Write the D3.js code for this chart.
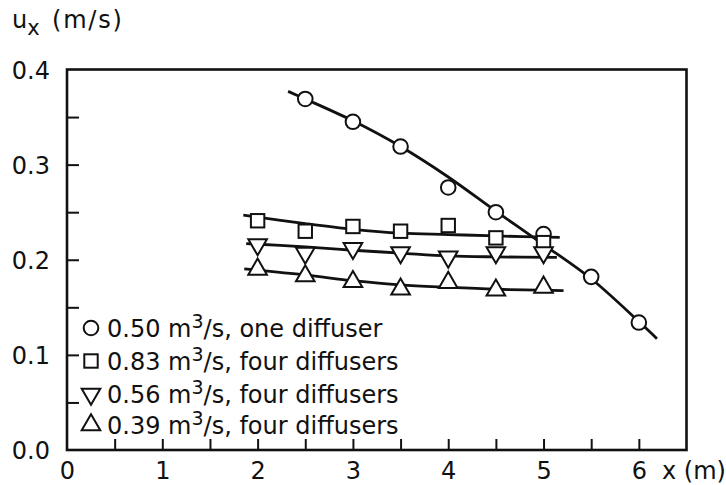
<!DOCTYPE html>
<html>
<head>
<meta charset="utf-8">
<script src="https://cdn.jsdelivr.net/npm/d3@7"></script>
<style>
  html, body { margin: 0; padding: 0; background: #fff; }
  svg { display: block; }
  text { font-family: "DejaVu Sans", sans-serif; fill: #111; }
</style>
</head>
<body>
<svg id="chart" width="726" height="485"></svg>
<script>
// ---- Data ----
const xTickLabels = [0, 1, 2, 3, 4, 5, 6];
const yTickLabels = [0.0, 0.1, 0.2, 0.3, 0.4];
const xMinorTicks = [0.5, 1, 1.5, 2, 2.5, 3, 3.5, 4, 4.5, 5, 5.5, 6];
const yMinorTicks = [0.05, 0.1, 0.15, 0.2, 0.25, 0.3, 0.35];

// 0.50 m3/s, one diffuser (circles)
const circleX = [2.5, 3, 3.5, 4, 4.5, 5, 5.5, 6];
const circleY = [0.369, 0.345, 0.319, 0.276, 0.250, 0.227, 0.182, 0.134];
const circleFitX = [2.32, 2.5, 3, 3.5, 4, 4.5, 5, 5.5, 6, 6.19];
const circleFitY = [0.377, 0.369, 0.346, 0.319, 0.287, 0.251, 0.216, 0.180, 0.135, 0.117];

// 0.83 m3/s, four diffusers (squares)
const squareX = [2, 2.5, 3, 3.5, 4, 4.5, 5];
const squareY = [0.241, 0.230, 0.235, 0.230, 0.236, 0.223, 0.218];
const squareFitX = [1.85, 2.5, 3, 3.5, 4, 4.5, 5.17];
const squareFitY = [0.247, 0.238, 0.232, 0.228, 0.2265, 0.225, 0.2235];

// 0.56 m3/s, four diffusers (down triangles)
const triDownX = [2, 2.5, 3, 3.5, 4, 4.5, 5];
const triDownY = [0.216, 0.207, 0.212, 0.2075, 0.203, 0.2075, 0.2075];
const triDownFitX = [1.88, 2.5, 3, 3.5, 4, 4.5, 5.14];
const triDownFitY = [0.217, 0.2135, 0.210, 0.207, 0.204, 0.203, 0.2025];

// 0.39 m3/s, four diffusers (up triangles)
const triUpX = [2, 2.5, 3, 3.5, 4, 4.5, 5];
const triUpY = [0.190, 0.183, 0.177, 0.169, 0.176, 0.168, 0.171];
const triUpFitX = [1.86, 2.5, 3, 3.5, 4, 4.5, 5.21];
const triUpFitY = [0.1903, 0.184, 0.178, 0.1735, 0.171, 0.169, 0.1675];

const seriesNames = ["0.50", "0.83", "0.56", "0.39"];
const seriesDesc = ["one diffuser", "four diffusers", "four diffusers", "four diffusers"];

// ---- Build ----
const FONT = '"DejaVu Sans", sans-serif';
const FS = "24px";
const svg = d3.select("#chart");
const x = d3.scaleLinear().domain([0, 6.5]).range([67, 686.5]);
const y = d3.scaleLinear().domain([0, 0.4]).range([450, 69.5]);

const zip = (xs, ys) => xs.map((v, i) => [v, ys[i]]);

const series = [
  { pts: zip(circleX, circleY), fit: zip(circleFitX, circleFitY), shape: "circle" },
  { pts: zip(squareX, squareY), fit: zip(squareFitX, squareFitY), shape: "square" },
  { pts: zip(triDownX, triDownY), fit: zip(triDownFitX, triDownFitY), shape: "down" },
  { pts: zip(triUpX, triUpY), fit: zip(triUpFitX, triUpFitY), shape: "up" }
];

// frame
svg.append("rect")
  .attr("x", x(0)).attr("y", y(0.4))
  .attr("width", x(6.5) - x(0)).attr("height", y(0) - y(0.4))
  .attr("fill", "none").attr("stroke", "#111").attr("stroke-width", 2.6);

// inward ticks
const xTickAxis = d3.axisBottom(x).tickValues(xMinorTicks).tickSize(-11).tickFormat("");
const gx = svg.append("g").attr("transform", `translate(0,${y(0)})`).call(xTickAxis);
gx.select(".domain").remove();
gx.selectAll(".tick line").attr("stroke", "#111").attr("stroke-width", 2);

const yTickAxis = d3.axisLeft(y).tickValues(yMinorTicks).tickSize(-12).tickFormat("");
const gy = svg.append("g").attr("transform", `translate(${x(0)},0)`).call(yTickAxis);
gy.select(".domain").remove();
gy.selectAll(".tick line").attr("stroke", "#111").attr("stroke-width", 2);

// tick labels
const xLabAxis = d3.axisBottom(x).tickValues(xTickLabels).tickSize(0).tickPadding(0).tickFormat(d3.format("d"));
const gxl = svg.append("g").attr("transform", `translate(0,${y(0)})`).call(xLabAxis);
gxl.select(".domain").remove();
gxl.selectAll("text").attr("dy", null).attr("y", 29)
  .style("font-family", FONT).style("font-size", FS).attr("fill", "#111");

const yLabAxis = d3.axisLeft(y).tickValues(yTickLabels).tickSize(0).tickPadding(0).tickFormat(d3.format(".1f"));
const gyl = svg.append("g").attr("transform", `translate(50,0)`).call(yLabAxis);
gyl.select(".domain").remove();
gyl.selectAll("text").attr("dy", "0.36em").attr("x", 0)
  .style("font-family", FONT).style("font-size", FS).attr("fill", "#111");

// axis titles
const yt = svg.append("text").attr("x", 12).attr("y", 28).style("font-size", FS);
yt.append("tspan").text("u");
yt.append("tspan").attr("dy", 7).style("font-size", "21px").text("x");
yt.append("tspan").attr("dy", -7).attr("x", 52).style("letter-spacing", "1.8px").text("(m/s)");

svg.append("text").attr("x", 662).attr("y", 479).style("font-size", FS).text("x (m)");

// fitted curves
const line = d3.line().x(d => x(d[0])).y(d => y(d[1])).curve(d3.curveCatmullRom.alpha(0.5));
series.forEach(s => {
  svg.append("path").attr("d", line(s.fit))
    .attr("fill", "none").attr("stroke", "#111").attr("stroke-width", 2.8);
});

// markers
function drawMarker(g, shape, cx, cy) {
  if (shape === "circle") {
    g.append("circle").attr("cx", cx).attr("cy", cy).attr("r", 7.3)
      .attr("fill", "#fff").attr("stroke", "#111").attr("stroke-width", 2);
  } else if (shape === "square") {
    g.append("rect").attr("x", cx - 6.7).attr("y", cy - 6.7).attr("width", 13.4).attr("height", 13.4)
      .attr("fill", "#fff").attr("stroke", "#111").attr("stroke-width", 2);
  } else {
    const sym = d3.symbol().type(d3.symbolTriangle).size(150);
    g.append("path").attr("d", sym())
      .attr("transform", `translate(${cx},${cy}) rotate(${shape === "down" ? 180 : 0})`)
      .attr("fill", "#fff").attr("stroke", "#111").attr("stroke-width", 2).attr("stroke-linejoin", "miter");
  }
}
const gm = svg.append("g");
series.forEach(s => s.pts.forEach(p => drawMarker(gm, s.shape, x(p[0]), y(p[1]))));

// legend
const legY = [328, 361, 394, 425];
const gl = svg.append("g");
series.forEach((s, i) => {
  drawMarker(gl, s.shape, 91, legY[i]);
  const t = gl.append("text").attr("x", 107).attr("y", legY[i] + 8.5)
    .style("font-size", FS);
  t.append("tspan").text(seriesNames[i] + " m");
  t.append("tspan").attr("dy", -9).style("font-size", "19px").text("3");
  t.append("tspan").attr("dy", 9).text("/s, " + seriesDesc[i]);
});
</script>
</body>
</html>
